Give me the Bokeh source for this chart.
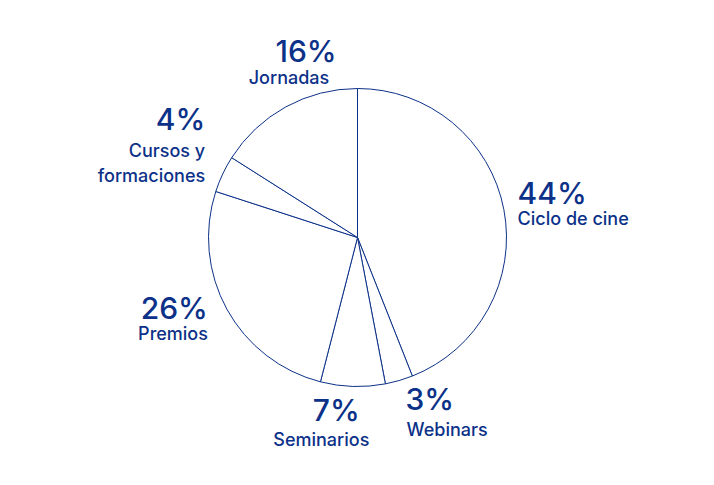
import math
from bokeh.plotting import figure
from bokeh.models import Range1d, ColumnDataSource
from bokeh.core.properties import value
from bokeh.embed import file_html
from bokeh.resources import INLINE

# ---- data ----
categories = ["Ciclo de cine", "Webinars", "Seminarios", "Premios", "Cursos y\nformaciones", "Jornadas"]
shares = [44, 3, 7, 26, 4, 16]

# ---- style / layout ----
BLUE = "#0c3188"
RADIUS = 149
LABEL_R = 165
FONT = "Inter Medium, Inter"
aligns = ["left", "left", "center", "right", "right", "center"]
pct_off = [(-2, 4), (2, -13), (-16, -18), (-5, -1), (-3, 38), (28, 32)]
name_off = [(-2, -18), (3, -40), (-31, -43), (-5, -23), (-3, 11), (11, 9)]
PCT_SHIFT = 10   # baseline correction for 30px text
NAME_SHIFT = 6   # baseline correction for 18px text
LINE_GAP = 25

total = float(sum(shares))
starts, ends, mids = [], [], []
cum = 0.0
for s in shares:
    a0 = cum / total
    cum += s
    a1 = cum / total
    # bokeh angles: counterclockwise from +x; slices run clockwise from 12 o'clock
    starts.append(math.pi / 2 - 2 * math.pi * a0)
    ends.append(math.pi / 2 - 2 * math.pi * a1)
    mids.append(2 * math.pi * (a0 + a1) / 2)

p = figure(width=698, height=469, output_backend="svg", toolbar_location=None,
           x_range=Range1d(-357, 341), y_range=Range1d(-232, 237),
           min_border=0, x_axis_location=None, y_axis_location=None)
p.grid.visible = False
p.outline_line_color = None
p.background_fill_color = "white"
p.border_fill_color = "white"

wsrc = ColumnDataSource(dict(start=starts, end=ends))
p.wedge(x=0, y=0, radius=RADIUS, start_angle="start", end_angle="end",
        direction="clock", source=wsrc, fill_color="white",
        line_color=BLUE, line_width=1)

px, py, ptxt, pal = [], [], [], []
nx, ny, ntxt, nal = [], [], [], []
for i, (cat, s) in enumerate(zip(categories, shares)):
    ax = LABEL_R * math.sin(mids[i])
    ay = LABEL_R * math.cos(mids[i])
    px.append(ax + pct_off[i][0]); py.append(ay + pct_off[i][1] + PCT_SHIFT)
    ptxt.append(f"{s}%"); pal.append(aligns[i])
    for j, line in enumerate(cat.split("\n")):
        nx.append(ax + name_off[i][0]); ny.append(ay + name_off[i][1] + NAME_SHIFT - j * LINE_GAP)
        ntxt.append(line); nal.append(aligns[i])

p.text(x=px, y=py, text=ptxt, text_align=pal, text_baseline="alphabetic",
       text_font=value(FONT), text_font_size="30px", text_color=BLUE)
p.text(x=nx, y=ny, text=ntxt, text_align=nal, text_baseline="alphabetic",
       text_font=value(FONT), text_font_size="18px", text_color=BLUE)

open("out.html", "w").write(file_html(p, INLINE))
